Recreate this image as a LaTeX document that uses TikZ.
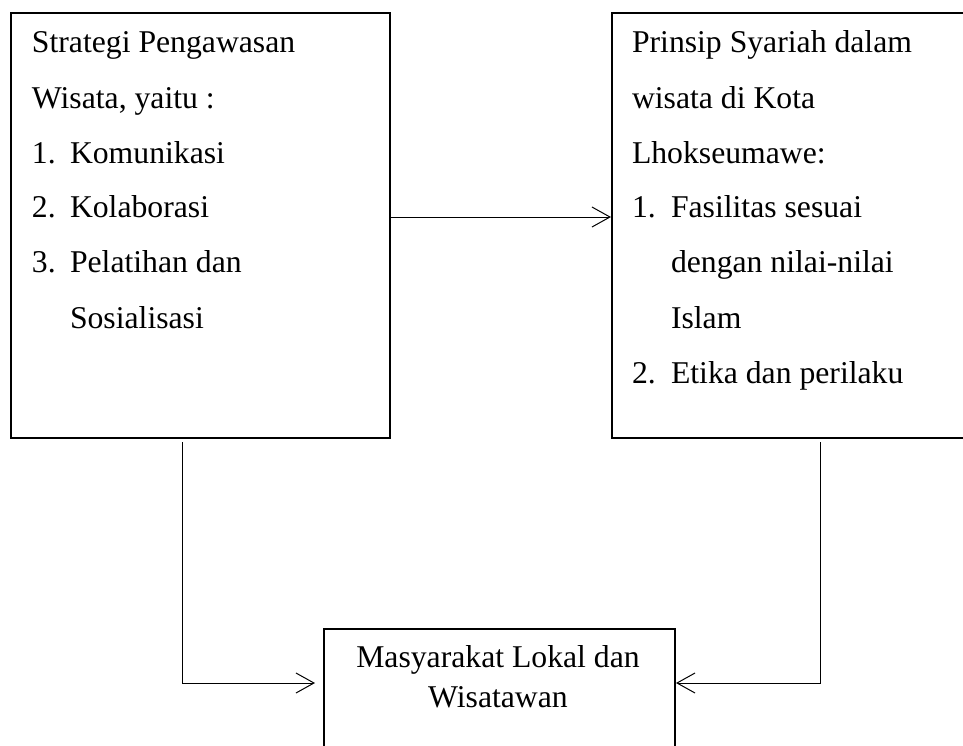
\documentclass[tikz,border=0pt]{standalone}
\usepackage{fontspec}
\setmainfont{Liberation Serif}
\usetikzlibrary{arrows.meta}
\tikzset{
  boxline/.style={draw=black, line width=1pt, fill=none},
  txt/.style={anchor=base west, inner sep=0pt, outer sep=0pt, font=\fontsize{15.85}{19}\selectfont},
  ctxt/.style={anchor=base, inner sep=0pt, outer sep=0pt, font=\fontsize{15.85}{19}\selectfont},
  conn/.style={draw=black, line width=0.5pt, -{Straight Barb[length=9pt,width=10pt,line width=0.5pt]}},
}
\begin{document}
\begin{tikzpicture}[x=0.5pt,y=-0.5pt]
\useasboundingbox (0,0) rectangle (963,745);
\clip (0,0) rectangle (963,745);
% boxes
\node[boxline, minimum width=189.5pt, minimum height=212.5pt, inner sep=0pt, anchor=north west] (left) at (10,12) {};
\node[boxline, minimum width=200pt, minimum height=212.5pt, inner sep=0pt, anchor=north west] (right) at (611,12) {};
\node[boxline, minimum width=175.5pt, minimum height=80pt, inner sep=0pt, anchor=north west] (bottom) at (323,628) {};
% left text
\node[txt] (l1) at (32,52) {Strategi Pengawasan};
\node[txt] (l2) at (32,108) {Wisata, yaitu :};
\node[txt] (l3n) at (32,163) {1.};
\node[txt] (l3) at (70,163) {Komunikasi};
\node[txt] (l4n) at (32,217) {2.};
\node[txt] (l4) at (70,217) {Kolaborasi};
\node[txt] (l5n) at (32,272) {3.};
\node[txt] (l5) at (70,272) {Pelatihan dan};
\node[txt] (l6) at (70,328) {Sosialisasi};
% right text
\node[txt] (r1) at (632,52) {Prinsip Syariah dalam};
\node[txt] (r2) at (632,108) {wisata di Kota};
\node[txt] (r3) at (632,163) {Lhokseumawe:};
\node[txt] (r4n) at (632,217) {1.};
\node[txt] (r4) at (671,217) {Fasilitas sesuai};
\node[txt] (r5) at (671,272) {dengan nilai-nilai};
\node[txt] (r6) at (671,328) {Islam};
\node[txt] (r7n) at (632,383) {2.};
\node[txt] (r7) at (671,383) {Etika dan perilaku};
% bottom text
\node[ctxt] (b1) at (498,667) {Masyarakat Lokal dan};
\node[ctxt] (b2) at (498,707) {Wisatawan};
% connector coordinates
\coordinate (aS) at (left.east |- 0,217);
\coordinate (aE) at (right.west |- 0,217);
\coordinate (lTop) at (182,442);
\coordinate (lEnd) at (315,683);
\coordinate (rTop) at (820,442);
\coordinate (rEnd) at (bottom.east |- 0,683);
\draw[conn] (aS) -- (aE);
\draw[conn] (lTop) |- (lEnd);
\draw[conn] (rTop) |- (rEnd);
\end{tikzpicture}
\end{document}
